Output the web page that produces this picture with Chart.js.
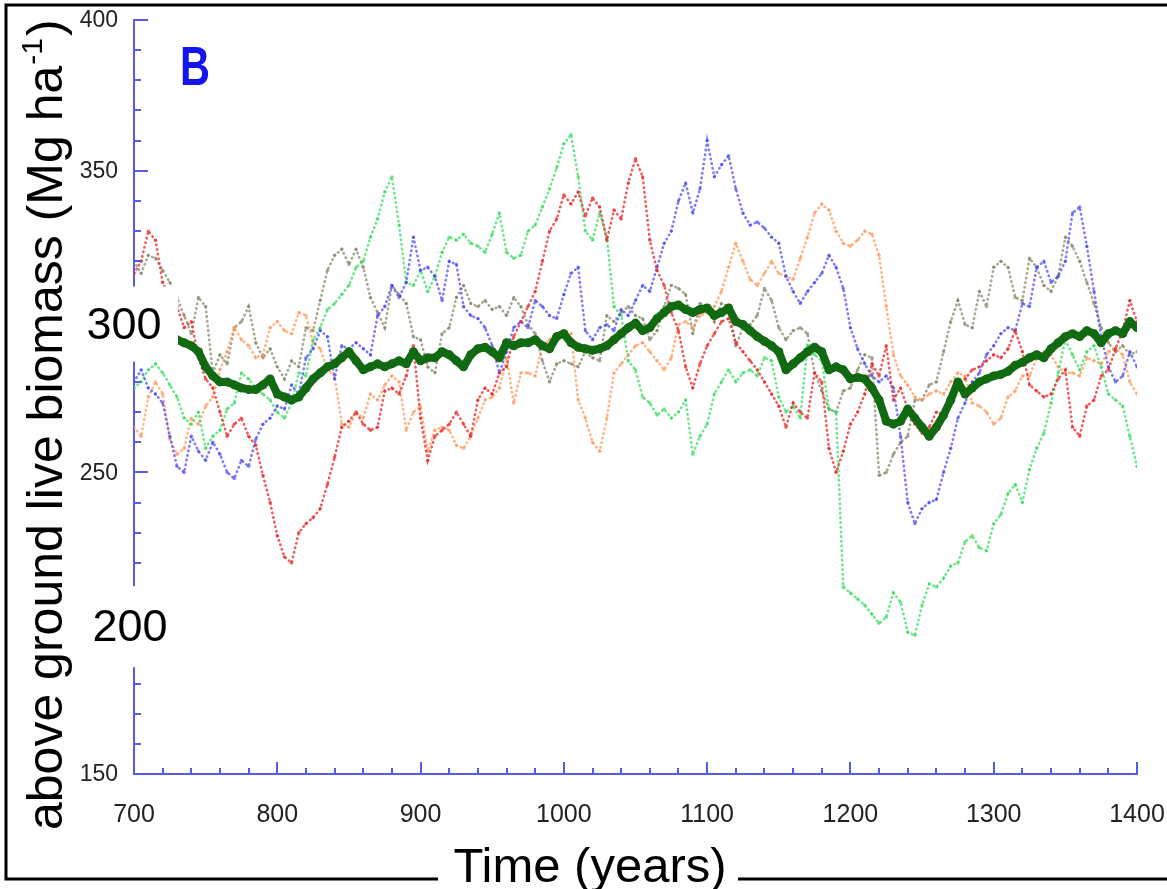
<!DOCTYPE html>
<html>
<head>
<meta charset="utf-8">
<title>above ground live biomass</title>
<script src="https://cdn.jsdelivr.net/npm/chart.js@4.4.1/dist/chart.umd.min.js"></script>
<style>
  html, body { margin: 0; padding: 0; background: #fff; }
  #chart { display: block; }
</style>
</head>
<body>
<canvas id="chart" width="1167" height="889"></canvas>
<script>
// 读数年份：每 5 年一个
const years = Array.from({ length: 141 }, (_, i) => 700 + i * 5)

// 平均值（粗深绿线）
const meanBiomass = [
  302, 300, 299, 297, 296, 295, 294, 293, 292, 290,
  285, 282, 280, 280, 279, 278, 277.5, 277.5, 279, 281,
  276, 275, 274, 275, 278, 281, 283, 285, 286, 288,
  290, 287, 284, 285, 286, 285, 286, 287, 286, 290,
  287, 288, 288, 290, 289, 287, 285, 289, 291, 291.5,
  290, 288, 293, 292, 293, 293, 294, 292, 291, 295,
  296, 293, 291.5, 291, 290.5, 291, 292, 294, 296, 298,
  299.5, 297, 298, 301, 303, 305, 305.5, 304, 303, 304,
  304.5, 302, 303, 304.5, 300, 299, 297, 295, 293.5, 292,
  290, 284, 286, 288, 290, 291.5, 290, 284, 285, 284,
  281, 281.5, 281, 278, 274, 267, 266, 267, 271, 268,
  265, 262, 265, 269, 274, 280, 276, 278, 280, 281,
  282, 282.5, 283.5, 285.5, 286.5, 288, 289, 288, 291, 293,
  295, 296, 295, 297, 296, 293, 296, 297, 296, 300,
  298
]

// 各次模拟（点状）
const redRun = [
  316, 320, 330, 327, 313, 308, 305, 298, 300, 288,
  281, 278, 270, 262, 266, 268, 262, 259, 249, 240,
  229, 222, 220, 230, 233, 235, 238, 246, 255, 265,
  267, 270, 266, 264, 265, 277, 278, 276, 282, 292,
  268, 254, 262, 264, 266, 270, 266, 262, 274, 278,
  276, 283, 285, 295, 300, 305, 310, 320, 330, 334,
  342, 339, 343, 335, 341, 338, 327, 337, 334, 346,
  354, 348, 327, 317, 312, 303, 297, 285, 278, 286,
  292, 296, 300, 301, 293, 290, 287, 284, 280, 276,
  272, 265, 273, 270, 268, 283, 280, 258, 250, 257,
  266, 270, 276, 286, 282, 292, 274, 278, 271, 266,
  263, 265, 270, 269, 276, 279, 281, 284, 285, 287,
  289, 288, 291, 297, 290, 279, 277, 275, 276, 281,
  284, 265, 262, 272, 274, 282, 284, 291, 297, 307,
  300
]

const blueRun = [
  280, 284, 278, 276, 273, 262, 252, 250, 262, 257,
  254, 260, 256, 250, 248, 254, 252, 261, 266, 268,
  272, 271, 279, 276, 288, 291, 297, 295, 281, 292,
  291, 293, 291, 289, 302, 305, 312, 308, 313, 328,
  317, 318, 315, 307, 320, 319, 305, 302, 301, 298,
  292, 283, 290, 298, 300, 298, 307, 305, 302, 301,
  309, 316, 318, 297, 294, 298, 299, 297, 304, 302,
  307, 312, 310, 318, 326, 330, 340, 346, 336, 344,
  360, 348, 352, 355, 344, 336, 332, 333, 331, 328,
  326, 315, 310, 306, 310, 313, 316, 322, 318, 311,
  298, 291, 286, 282, 280, 282, 278, 262, 240, 233,
  238, 240, 241, 250, 258, 268, 273, 280, 283, 289,
  292, 296, 298, 297, 306, 305, 318, 320, 313, 315,
  320, 336, 338, 325, 310, 295, 285, 280, 282, 290,
  285
]

const greenRun = [
  278, 280, 284, 286, 283, 279, 275, 268, 266, 270,
  258, 262, 264, 271, 273, 283, 281, 278, 276, 274,
  270, 268, 273, 283, 282, 294, 298, 304, 306, 309,
  312, 318, 320, 328, 334, 343, 348, 332, 313, 312,
  317, 310, 315, 323, 328, 327, 329, 326, 325, 323,
  329, 336, 323, 321, 322, 330, 332, 338, 344, 351,
  359, 362, 348, 330, 327, 336, 328, 305, 302, 287,
  284, 275, 273, 269, 271, 268, 270, 274, 256, 262,
  266, 276, 280, 284, 280, 283, 284, 282, 288, 287,
  275, 270, 272, 268, 292, 289, 287, 271, 270, 212,
  210, 208, 206, 203, 200, 202, 210, 207, 197, 196,
  206, 213, 212, 215, 219, 220, 227, 229, 225, 224,
  233, 236, 243, 246, 240, 251, 258, 263, 273, 283,
  294, 289, 284, 290, 292, 285, 276, 274, 272, 262,
  252
]

const orangeRun = [
  265, 262, 275, 280, 276, 261, 256, 258, 268, 266,
  272, 275, 284, 290, 298, 294, 292, 288, 289, 298,
  300, 297, 296, 303, 302, 293, 291, 284, 282, 266,
  265, 270, 268, 276, 274, 279, 282, 280, 264, 270,
  272, 257, 264, 265, 264, 259, 258, 262, 268, 274,
  275, 278, 288, 273, 283, 283, 282, 292, 294, 296,
  297, 296, 274, 268, 260, 257, 268, 283, 286, 289,
  292, 293, 290, 287, 284, 288, 299, 300, 298, 302,
  303, 305, 310, 318, 326, 320, 314, 312, 316, 320,
  316, 315, 314, 321, 328, 336, 339, 337, 330, 326,
  325, 327, 330, 329, 322, 305, 289, 282, 279, 275,
  274, 276, 277, 276, 280, 283, 282, 273, 272, 270,
  266, 268, 275, 277, 282, 282, 288, 290, 289, 285,
  283, 283, 282, 288, 287, 286, 290, 291, 289, 280,
  276
]

const brownRun = [
  320, 316, 322, 321, 317, 313, 308, 302, 296, 308,
  305, 283, 289, 286, 298, 300, 305, 293, 288, 291,
  285, 281, 287, 285, 298, 297, 307, 317, 322, 324,
  319, 324, 318, 308, 303, 298, 312, 309, 306, 295,
  294, 285, 283, 296, 298, 308, 312, 306, 305, 307,
  304, 305, 302, 308, 305, 299, 296, 287, 280, 286,
  287, 286, 285, 290, 288, 287, 302, 300, 303, 305,
  302, 301, 294, 297, 305, 312, 311, 309, 296, 306,
  305, 300, 306, 305, 292, 298, 299, 302, 311, 307,
  298, 294, 297, 298, 296, 283, 277, 271, 270, 277,
  278, 284, 289, 288, 249, 250, 256, 260, 262, 274,
  274, 279, 280, 290, 300, 307, 299, 298, 310, 305,
  318, 320, 318, 308, 307, 321, 318, 312, 310, 315,
  328, 325, 320, 313, 306, 298, 293, 290, 292, 289,
  290
]

// 刻度
const xTicks = [700, 800, 900, 1000, 1100, 1200, 1300, 1400]
const yTicks = [150, 200, 250, 300, 350, 400]
const bigYTicks = [300, 200]

const axisColor = '#5a5ae8'
const sansFont = '"Liberation Sans", Arial, sans-serif'

// 把年份和数值拼成点
function toPoints(values) {
  return values.map((v, i) => ({ x: years[i], y: v }))
}

// 点状的模拟序列
function dottedRun(values, color) {
  return {
    data: toPoints(values),
    borderColor: color,
    borderWidth: 2.6,
    borderDash: [0.5, 4.2],
    borderCapStyle: 'round',
    pointRadius: 1.7,
    pointBorderWidth: 0,
    pointBackgroundColor: color,
    tension: 0
  }
}

const datasets = [
  {
    data: toPoints(meanBiomass),
    borderColor: '#116a11',
    borderWidth: 8,
    borderJoinStyle: 'round',
    borderCapStyle: 'round',
    pointRadius: 4.5,
    pointBorderWidth: 0,
    pointBackgroundColor: '#116a11',
    tension: 0
  },
  dottedRun(redRun, 'rgba(232, 40, 40, 0.75)'),
  dottedRun(blueRun, 'rgba(70, 70, 240, 0.7)'),
  dottedRun(greenRun, 'rgba(50, 220, 90, 0.7)'),
  dottedRun(orangeRun, 'rgba(255, 150, 85, 0.7)'),
  dottedRun(brownRun, 'rgba(130, 130, 100, 0.7)')
]

// 内向刻度、刻度文字、大号标签、标题和外框
const overlayPlugin = {
  id: 'overlay',
  afterDraw(chart) {
    const { ctx, scales: { x, y }, chartArea } = chart
    ctx.save()

    // x 轴刻度（向上）
    ctx.strokeStyle = axisColor
    ctx.lineWidth = 2
    ctx.beginPath()
    for (let v = 720; v <= 1400; v += 20) {
      const px = Math.round(x.getPixelForValue(v))
      const len = v % 100 === 0 ? 12 : 6
      ctx.moveTo(px, chartArea.bottom)
      ctx.lineTo(px, chartArea.bottom - len)
    }
    // y 轴刻度（向右）
    for (let v = 160; v <= 400; v += 10) {
      const py = Math.round(y.getPixelForValue(v))
      const len = v % 50 === 0 ? 14 : 7
      ctx.moveTo(chartArea.left, py)
      ctx.lineTo(chartArea.left + len, py)
    }
    ctx.stroke()

    // 刻度文字
    ctx.fillStyle = '#222'
    ctx.textBaseline = 'middle'
    ctx.textAlign = 'center'
    ctx.font = '25px ' + sansFont
    xTicks.forEach(v => {
      ctx.fillText(String(v), x.getPixelForValue(v), chartArea.bottom + 41)
    })
    ctx.textAlign = 'right'
    ctx.font = '23px ' + sansFont
    yTicks.forEach(v => {
      if (bigYTicks.includes(v)) return
      ctx.fillText(String(v), chartArea.left - 16, y.getPixelForValue(v) + 1)
    })

    // 300 和 200 的大号标签，带白底
    const p300 = y.getPixelForValue(300)
    const p200 = y.getPixelForValue(200)
    ctx.fillStyle = '#fff'
    ctx.fillRect(76, p300 - 35, 102, 75)
    ctx.fillRect(80, p200 - 37, 98, 81)
    ctx.fillStyle = '#000'
    ctx.font = '45px ' + sansFont
    ctx.textAlign = 'center'
    ctx.textBaseline = 'alphabetic'
    ctx.fillText('300', 124, p300 + 17)
    ctx.fillText('200', 130, p200 + 18)

    // 面板字母 B
    ctx.save()
    ctx.translate(195, 85)
    ctx.scale(0.83, 1.12)
    ctx.fillStyle = '#1414ee'
    ctx.font = 'bold 50px ' + sansFont
    ctx.fillText('B', 0, 0)
    ctx.restore()

    // y 轴标题（竖排）
    ctx.save()
    ctx.translate(62, 830)
    ctx.rotate(-Math.PI / 2)
    ctx.fillStyle = '#000'
    ctx.textAlign = 'left'
    ctx.font = '50px ' + sansFont
    const mainText = 'above ground live biomass (Mg ha'
    ctx.fillText(mainText, 0, 0)
    let w = ctx.measureText(mainText).width
    ctx.font = '30px ' + sansFont
    ctx.fillText('-1', w + 1, -20)
    w += ctx.measureText('-1').width + 3
    ctx.font = '50px ' + sansFont
    ctx.fillText(')', w, 0)
    ctx.restore()

    // 外框
    ctx.strokeStyle = '#000'
    ctx.lineWidth = 3
    ctx.beginPath()
    ctx.moveTo(1167, 5)
    ctx.lineTo(6, 5)
    ctx.lineTo(6, 879)
    ctx.lineTo(1167, 879)
    ctx.stroke()

    // x 轴标题
    ctx.fillStyle = '#fff'
    ctx.fillRect(438, 838, 300, 51)
    ctx.fillStyle = '#000'
    ctx.font = '49px ' + sansFont
    ctx.textAlign = 'center'
    ctx.fillText('Time (years)', 590, 882)

    ctx.restore()
  }
}

new Chart(document.getElementById('chart'), {
  type: 'line',
  data: { datasets },
  options: {
    responsive: false,
    animation: false,
    devicePixelRatio: 1,
    layout: { padding: { left: 0, top: 20, right: 30, bottom: 0 } },
    plugins: {
      legend: { display: false },
      tooltip: { enabled: false }
    },
    scales: {
      x: {
        type: 'linear',
        min: 700,
        max: 1400,
        afterBuildTicks: s => { s.ticks = xTicks.map(v => ({ value: v })) },
        afterFit: s => { s.height = 115 },
        grid: { display: false, drawTicks: false },
        border: { display: true, color: axisColor, width: 2 },
        ticks: { display: false }
      },
      y: {
        type: 'linear',
        min: 150,
        max: 400,
        afterBuildTicks: s => { s.ticks = yTicks.map(v => ({ value: v })) },
        afterFit: s => { s.width = 134 },
        grid: { display: false, drawTicks: false },
        border: { display: true, color: axisColor, width: 2 },
        ticks: { display: false }
      }
    }
  },
  plugins: [overlayPlugin]
})
</script>
</body>
</html>
